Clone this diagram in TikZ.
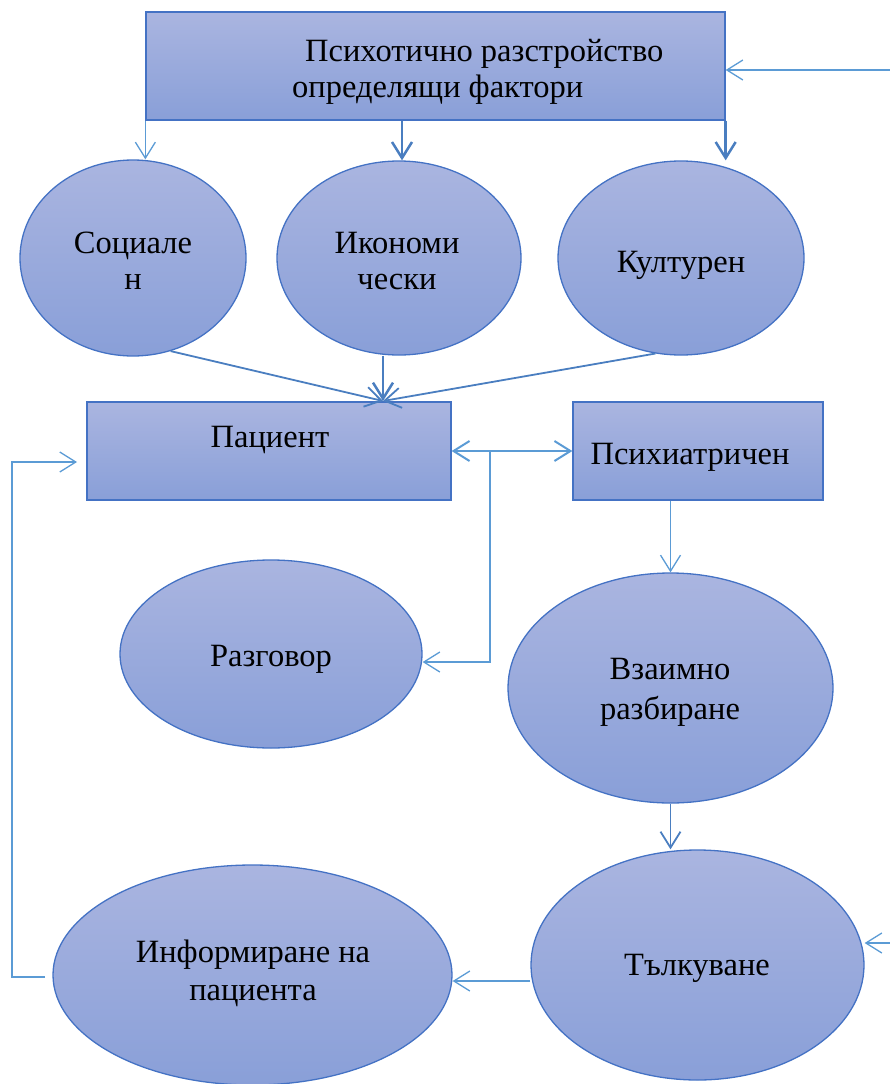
\documentclass[tikz,border=0pt]{standalone}
\usepackage{fontspec}
\setmainfont{Liberation Serif}
\usetikzlibrary{shapes.geometric,arrows.meta,calc}
\definecolor{fillA}{RGB}{170,181,224}
\definecolor{fillB}{RGB}{137,159,216}
\definecolor{edgeC}{RGB}{68,114,196}
\definecolor{lineL}{RGB}{91,155,213}
\definecolor{lineD}{RGB}{74,126,192}
\begin{document}
\begin{tikzpicture}[x=1pt,y=-1pt,
  shapebox/.style={draw=edgeC, line width=1.3pt, top color=fillA, bottom color=fillB, rectangle, inner sep=0pt},
  oval/.style={draw=edgeC, line width=1.3pt, top color=fillA, bottom color=fillB, ellipse, inner sep=0pt},
  lbl/.style={anchor=base, inner sep=0pt, font=\fontsize{32.5}{38}\selectfont},
  barb/.tip={Straight Barb[length=16pt,width=20pt]},
  thinarrow/.style={draw=lineL, line width=1.3pt, -barb},
  midarrow/.style={draw=lineD, line width=1.8pt, -barb},
  thickarrow/.style={draw=lineD, line width=2.5pt, -barb},
]
\useasboundingbox (0,0) rectangle (890,1084);
% shapes
\node[shapebox, minimum width=579pt, minimum height=108pt] (top) at (435.5,66) {};
\node[oval, minimum width=226pt, minimum height=196pt] (soc) at (133,258) {};
\node[oval, minimum width=244pt, minimum height=194pt] (eco) at (399,258) {};
\node[oval, minimum width=246pt, minimum height=194pt] (cul) at (681,258) {};
\node[shapebox, minimum width=364pt, minimum height=98pt] (pat) at (269,451) {};
\node[shapebox, minimum width=250pt, minimum height=98pt] (psy) at (698,451) {};
\node[oval, minimum width=302pt, minimum height=188pt] (raz) at (271,654) {};
\node[oval, minimum width=325pt, minimum height=230pt] (vz) at (670.5,688) {};
\node[oval, minimum width=333pt, minimum height=230pt] (tl) at (697.5,965) {};
\node[oval, minimum width=399pt, minimum height=220pt] (inf) at (252.5,975) {};
% connectors
\coordinate (rin) at (890,70);
\draw[thinarrow] (rin) -- (rin -| top.east);
\draw[thinarrow] (top.south west) -- (top.south west |- soc.north);
\draw[thickarrow] ($(top.south -| eco.north)+(3,0)$) -- ($(eco.north)+(3,0)$);
\draw[thickarrow] (top.south east) -- (top.south east |- cul.north);
\coordinate (conv) at (383,401);
\draw[midarrow] (soc.-68) -- (conv);
\draw[thickarrow] (conv |- eco.south) -- (conv);
\draw[midarrow] (cul.-105) -- (conv);
\draw[draw=lineL, line width=2pt, barb-barb] (pat.east) -- (psy.west);
\coordinate (br) at (490,451);
\draw[thinarrow] (br) |- ($(raz.east)+(0,8)$);
\draw[thinarrow] (psy.south -| vz.north) -- (vz.north);
\draw[midarrow] (vz.south) -- (vz.south |- tl.north);
\coordinate (rin2) at (890,943);
\draw[thinarrow] (rin2) -- (rin2 -| tl.east);
\draw[thinarrow] ($(tl.west)+(0,16)$) -- ($(inf.east)+(0,6)$);
\coordinate (fbs) at (45,977);
\coordinate (fbe) at (77,462);
\draw[thinarrow] (fbs) -- (12,977) |- (fbe);
% labels
\node[lbl, anchor=base west] (t1) at (305,61) {Психотично разстройство};
\node[lbl, anchor=base west] (t2) at (292,97) {определящи фактори};
\node[lbl] (s1) at (133,253) {Социале};
\node[lbl] (s2) at (133,289) {н};
\node[lbl] (e1) at (397,253) {Икономи};
\node[lbl] (e2) at (397,289) {чески};
\node[lbl] (c1) at (681,272) {Културен};
\node[lbl] (p1) at (270,447) {Пациент};
\node[lbl] (q1) at (690,464) {Психиатричен};
\node[lbl] (r1) at (271,666) {Разговор};
\node[lbl] (v1) at (670,679) {Взаимно};
\node[lbl] (v2) at (670,719) {разбиране};
\node[lbl] (k1) at (697,975) {Тълкуване};
\node[lbl] (i1) at (253,962) {Информиране на};
\node[lbl] (i2) at (253,1000) {пациента};
\end{tikzpicture}
\end{document}
